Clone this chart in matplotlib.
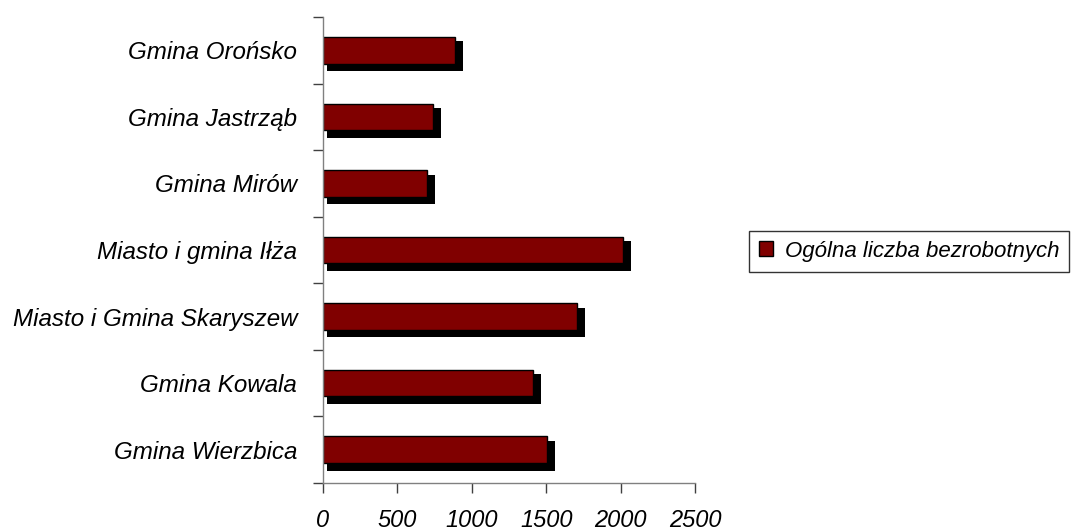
import matplotlib
matplotlib.use("Agg")
import matplotlib.pyplot as plt
from matplotlib.patches import Patch

categories = ["Gmina Wierzbica", "Gmina Kowala", "Miasto i Gmina Skaryszew",
              "Miasto i gmina Iłża", "Gmina Mirów", "Gmina Jastrząb", "Gmina Orońsko"]
values = [1503, 1410, 1705, 2015, 699, 737, 887]
xticks = [0, 500, 1000, 1500, 2000, 2500]
series_name = "Ogólna liczba bezrobotnych"

plt.rcParams['font.family'] = ['Liberation Sans', 'DejaVu Sans']

fig = plt.figure(figsize=(10.71, 5.32), dpi=100)
ax = fig.add_axes([323/1071, 1-483/532, 372/1071, 466/532])

pos = list(range(len(categories)))
# shadow bars
sx = 27
ax.barh([p - 0.09 for p in pos], [v + sx for v in values], left=sx, height=0.445,
        color='black', zorder=1)
ax.barh(pos, values, height=0.40, color='#800000', edgecolor='black',
        linewidth=1.0, zorder=2)

ax.set_xlim(0, 2500)
ax.set_ylim(-0.5, len(categories) - 0.5)
ax.set_xticks(xticks)
ax.set_xticklabels([str(t) for t in xticks], fontsize=17, style='italic')
ax.set_yticks([p for p in pos])
ax.set_yticklabels(categories, fontsize=17.4, style='italic')
ax.set_yticks([p - 0.5 for p in pos] + [len(categories) - 0.5], minor=True)
ax.tick_params(axis='y', which='major', length=0, pad=18.7)
ax.tick_params(axis='y', which='minor', length=7, color='#404040', width=1)
ax.tick_params(axis='x', length=7, color='#404040', width=1, pad=11.5)

for s in ['top', 'right']:
    ax.spines[s].set_visible(False)
for s in ['left', 'bottom']:
    ax.spines[s].set_color('#808080')
    ax.spines[s].set_linewidth(1)

handle = Patch(facecolor='#800000', edgecolor='black', linewidth=1.0)
leg = fig.legend([handle], [series_name], loc='center left',
                 bbox_to_anchor=(749/1071, 1-251/532),
                 prop={'style': 'italic', 'size': 16},
                 frameon=True, fancybox=False, edgecolor='black',
                 handlelength=0.65, handleheight=0.65, handletextpad=0.5,
                 borderpad=0.45, borderaxespad=0)
leg.get_frame().set_linewidth(1.0)

fig.savefig("out.png", dpi=100)
